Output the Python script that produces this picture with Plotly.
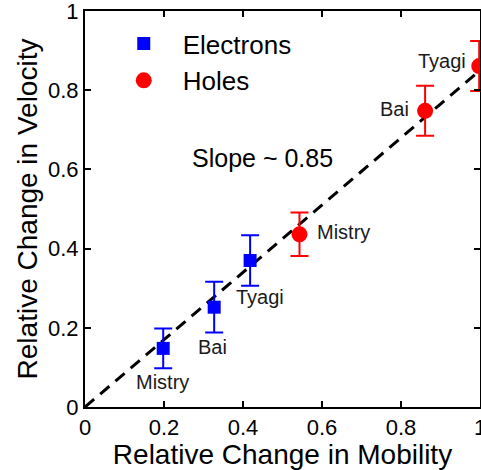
import plotly.graph_objects as go

# Relative change data (mobility vs velocity) with uncertainty
elec_names = ["Mistry", "Bai", "Tyagi"]
elec_mob = [0.198, 0.327, 0.418]
elec_vel = [0.148, 0.252, 0.370]
elec_err = [0.050, 0.064, 0.064]

hole_names = ["Mistry", "Bai", "Tyagi"]
hole_mob = [0.543, 0.861, 0.998]
hole_vel = [0.436, 0.748, 0.861]
hole_err = [0.055, 0.063, 0.063]

slope = 0.85
fit_x = [0, 1]

FONT = "Liberation Sans, Arial, sans-serif"

fig = go.Figure()

fig.add_trace(go.Scatter(
    x=fit_x, y=[slope * v for v in fit_x], mode="lines",
    line=dict(color="black", width=3, dash="12px,8px"),
    showlegend=False, hoverinfo="skip"))

fig.add_trace(go.Scatter(
    x=elec_mob, y=elec_vel, mode="markers", name="Electrons",
    marker=dict(symbol="square", size=13, color="#0000ff"),
    error_y=dict(type="data", array=elec_err, color="#0000ff",
                 thickness=2, width=9)))

fig.add_trace(go.Scatter(
    x=hole_mob, y=hole_vel, mode="markers", name="Holes",
    marker=dict(symbol="circle", size=16, color="#ff0000"),
    error_y=dict(type="data", array=hole_err, color="#ff0000",
                 thickness=2, width=9)))

# Source labels next to each point
label_offsets = {
    ("e", 0): (-1, 34), ("e", 1): (-2, 40), ("e", 2): (10, 37),
    ("h", 0): (44, -2), ("h", 1): (-31, -2), ("h", 2): (-37, -5),
}
for i, name in enumerate(elec_names):
    dx, dy = label_offsets[("e", i)]
    fig.add_annotation(x=elec_mob[i], y=elec_vel[i], text=name, showarrow=False,
                       xshift=dx, yshift=-dy, font=dict(size=20, color="#1a1a1a", family=FONT))
for i, name in enumerate(hole_names):
    dx, dy = label_offsets[("h", i)]
    fig.add_annotation(x=hole_mob[i], y=hole_vel[i], text=name, showarrow=False,
                       xshift=dx, yshift=-dy, font=dict(size=20, color="#1a1a1a", family=FONT))

fig.add_annotation(x=0.45, y=0.63, text=f"Slope ~ {slope}", showarrow=False,
                   font=dict(size=25, color="black", family=FONT))

axis_common = dict(
    range=[0, 1], tickvals=[0, 0.2, 0.4, 0.6, 0.8, 1],
    ticktext=["0", "0.2", "0.4", "0.6", "0.8", "1"],
    ticks="inside", ticklen=6, tickwidth=1.5, tickcolor="black",
    showline=True, linecolor="black", linewidth=2, mirror="ticks",
    showgrid=False, zeroline=False, automargin=False,
    ticklabeloverflow="allow",
    tickfont=dict(size=22, color="black", family=FONT),
)

fig.update_layout(
    width=481, height=470,
    margin=dict(l=85, r=1, t=11, b=63),
    paper_bgcolor="white", plot_bgcolor="white",
    xaxis=dict(**axis_common,
               title=dict(text="Relative Change in Mobility", standoff=0,
                          font=dict(size=28, color="black", family=FONT))),
    yaxis=dict(**axis_common,
               title=dict(text="Relative Change in Velocity", standoff=2,
                          font=dict(size=28, color="black", family=FONT))),
    legend=dict(x=0.05, y=0.977, xanchor="left", yanchor="top",
                bgcolor="rgba(0,0,0,0)", font=dict(size=26, color="black", family=FONT),
                itemsizing="trace", itemwidth=68, tracegroupgap=0),
    font=dict(family=FONT),
)

fig.write_html("out.html")
